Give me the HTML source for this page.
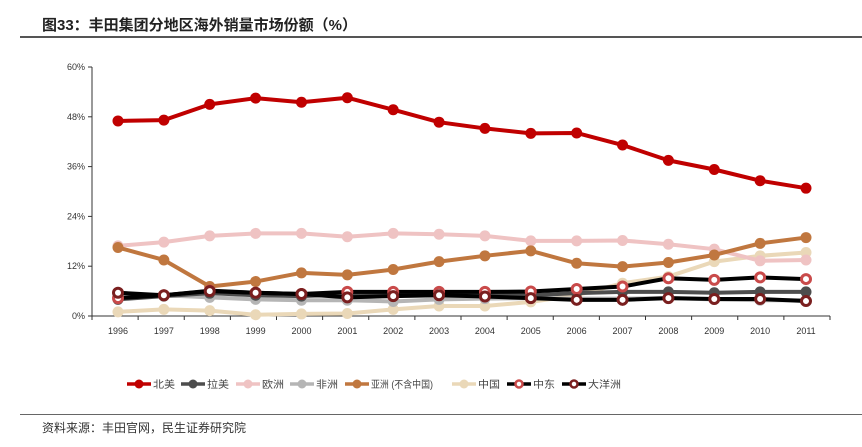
<!DOCTYPE html>
<html><head><meta charset="utf-8"><style>
body{margin:0;background:#fff;width:862px;height:447px;overflow:hidden;font-family:"Liberation Sans","Noto Sans CJK SC",sans-serif;}
#title{position:absolute;left:42px;top:14px;font-size:15px;font-weight:bold;color:#222;}
#tl{position:absolute;left:20px;right:0;top:36px;height:2px;background:#555;}
#fl{position:absolute;left:20px;right:0;top:414px;height:1px;background:#666;}
#src{position:absolute;left:42px;top:419px;font-size:12px;color:#333;}
</style></head><body>
<div id="title">图33：丰田集团分地区海外销量市场份额（%）</div>
<div id="tl"></div>
<svg id="c" width="862" height="447" style="position:absolute;left:0;top:0"></svg>
<div id="fl"></div>
<div id="src">资料来源：丰田官网，民生证券研究院</div>
<script>
const years=["1996","1997","1998","1999","2000","2001","2002","2003","2004","2005","2006","2007","2008","2009","2010","2011"];
const yTicks=[0,12,24,36,48,60];
const northAmerica=[47,47.2,51,52.5,51.5,52.6,49.7,46.7,45.2,44,44.1,41.2,37.5,35.3,32.6,30.8];
const latinAmerica=[4.0,4.8,5.5,5.0,4.8,5.2,5.2,5.2,5.0,5.0,5.5,5.8,5.8,5.6,5.8,5.8];
const europe=[16.9,17.8,19.3,19.9,19.9,19.1,19.9,19.7,19.3,18.1,18.1,18.2,17.3,16.1,13.3,13.5];
const africa=[4.5,5.0,4.5,4.0,3.8,3.8,3.5,4.0,4.2,4.3,4.2,4.2,4.3,4.0,3.8,3.8];
const asia=[16.5,13.5,7.1,8.3,10.4,9.9,11.2,13.1,14.5,15.7,12.7,11.9,12.9,14.7,17.5,18.9];
const china=[1.0,1.6,1.3,0.3,0.5,0.6,1.6,2.4,2.4,3.4,5.0,7.9,9.5,13.1,14.5,15.3];
const middleEast=[4.3,5.0,6.1,5.6,5.3,5.8,5.8,5.8,5.8,5.9,6.5,7.1,9.1,8.7,9.3,8.9];
const oceania=[5.6,5.0,6.0,5.6,5.3,4.5,4.8,5.0,4.7,4.3,3.9,3.9,4.3,4.1,4.1,3.6];
const series=[
 {n:"北美",d:northAmerica,c:"#c00000",m:"#c00000",ring:false,k:"north-america"},
 {n:"拉美",d:latinAmerica,c:"#4d4d4d",m:"#4d4d4d",ring:false,k:"latin-america"},
 {n:"欧洲",d:europe,c:"#efc3c3",m:"#efc3c3",ring:false,k:"europe"},
 {n:"非洲",d:africa,c:"#b5b5b5",m:"#b5b5b5",ring:false,k:"africa"},
 {n:"亚洲 (不含中国)",d:asia,c:"#c0773f",m:"#c0773f",ring:false,k:"asia"},
 {n:"中国",d:china,c:"#ead8b8",m:"#ead8b8",ring:false,k:"china"},
 {n:"中东",d:middleEast,c:"#000",m:"#c94a4a",ring:true,k:"middle-east"},
 {n:"大洋洲",d:oceania,c:"#000",m:"#7a1f1f",ring:true,k:"oceania"}];
const svg=document.getElementById('c');const NS="http://www.w3.org/2000/svg";
const x0=118,x1=806,yb=316,yt=67;
const X=i=>x0+(x1-x0)*i/(years.length-1);
const Y=v=>yb-(yb-yt)*v/60;
function mk(t,a,p){const e=document.createElementNS(NS,t);for(const k in a)e.setAttribute(k,a[k]);(p||svg).appendChild(e);return e;}
let ax=mk('line',{x1:92,y1:yt,x2:92,y2:yb,stroke:'#333','stroke-width':1});


let bx=mk('line',{x1:92,y1:yb,x2:830,y2:yb,stroke:'#333','stroke-width':1});


yTicks.forEach(v=>{mk('line',{x1:88,y1:Y(v),x2:92,y2:Y(v),stroke:'#333'});
 const t=mk('text',{x:85,y:Y(v)+3,'text-anchor':'end','font-size':9,fill:'#333'});t.textContent=v+'%';
 
 });
years.forEach((y,i)=>{const xs=92+(830-92)*i/16;mk('line',{x1:xs,y1:yb,x2:xs,y2:yb+4,stroke:'#333'});
 const t=mk('text',{x:X(i),y:334,'text-anchor':'middle','font-size':9,fill:'#333'});t.textContent=y;
 
 });
mk('line',{x1:830,y1:yb,x2:830,y2:yb+4,stroke:'#333'});
const order=[5,3,1,2,4,6,7,0];
order.forEach(si=>{const s=series[si];const g=mk('g',{});
 
 
 mk('polyline',{points:s.d.map((v,i)=>X(i)+','+Y(v)).join(' '),fill:'none',stroke:s.c,'stroke-width':4,'stroke-linejoin':'round'},g);
 s.d.forEach((v,i)=>{const p=s.ring?mk('circle',{cx:X(i),cy:Y(v),r:4.5,fill:'#fff',stroke:s.m,'stroke-width':3},g):mk('circle',{cx:X(i),cy:Y(v),r:5.5,fill:s.m},g);
  
  });});
const lx=[127,181,236,290,345,452,507,562];
const lw=[22,22,22,22,62,22,22,33];
series.forEach((s,i)=>{const g=mk('g',{});
 
 
 mk('line',{x1:lx[i],y1:384,x2:lx[i]+24,y2:384,stroke:s.c,'stroke-width':3.5},g);
 if(s.ring)mk('circle',{cx:lx[i]+12,cy:384,r:3.5,fill:'#fff',stroke:s.m,'stroke-width':2.5},g);else mk('circle',{cx:lx[i]+12,cy:384,r:4.5,fill:s.m},g);
 const t=mk('text',{x:lx[i]+26,y:388,'font-size':10,fill:'#444',textLength:lw[i],lengthAdjust:'spacingAndGlyphs'},g);t.textContent=s.n;});
</script>
</body></html>
